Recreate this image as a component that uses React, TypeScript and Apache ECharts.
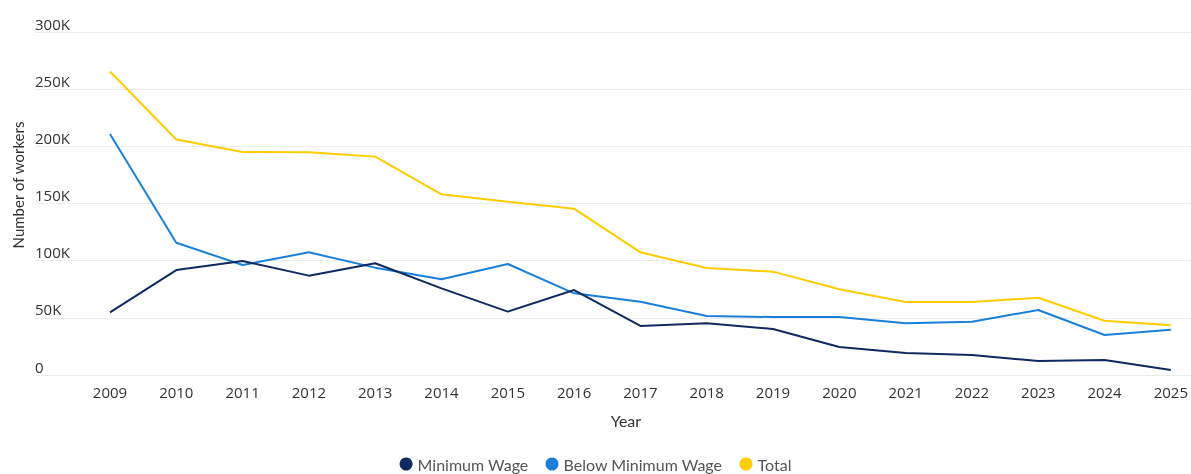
import React, { useEffect, useRef } from "react";
import * as echarts from "echarts";

const years = [2009, 2010, 2011, 2012, 2013, 2014, 2015, 2016, 2017, 2018, 2019, 2020, 2021, 2022, 2023, 2024, 2025];
const minimumWage = [54800, 91800, 99700, 86900, 97700, 75800, 55400, 74300, 42900, 45200, 40200, 24500, 19200, 17500, 12200, 13100, 4400];
const belowMinimumWage = [210800, 115700, 96200, 107300, 93900, 83700, 97100, 71400, 64100, 51600, 50700, 50700, 45200, 46600, 56900, 35000, 39600];
const total = [265500, 206000, 195000, 194800, 191000, 158000, 151600, 145500, 107300, 93600, 90400, 75000, 63900, 63900, 67600, 47500, 43500];
const seriesNames = ["Minimum Wage", "Below Minimum Wage", "Total"];
const colors = ["#10295f", "#1a7fd8", "#ffcc00"];

export default function App() {
  const ref = useRef<HTMLDivElement>(null);
  useEffect(() => {
    if (!ref.current) return;
    const chart = echarts.init(ref.current, undefined, { renderer: "svg" });
    const toPairs = (arr: number[]) => arr.map((v, i) => [years[i], v]);
    const seriesData = [minimumWage, belowMinimumWage, total];
    chart.setOption({
      animation: false,
      textStyle: { fontFamily: "Lato, 'Open Sans', sans-serif" },
      grid: { left: 35, right: 0, top: 32, bottom: 99, containLabel: false },
      xAxis: {
        type: "value",
        min: 2009 - 75 / 66.3125,
        max: 2025 + 20 / 66.3125,
        axisLine: { show: false },
        axisTick: { show: false },
        splitLine: { show: false },
        axisLabel: {
          customValues: years,
          formatter: (v: number) => String(Math.round(v)),
          color: "#333",
          fontFamily: "'Open Sans', sans-serif",
          fontSize: 15,
          margin: 9,
        },
        name: "Year",
        nameLocation: "middle",
        nameGap: 37,
        nameTextStyle: { color: "#333", fontSize: 16, fontFamily: "Lato, sans-serif", padding: [0, 0, 0, 26] },
      },
      yAxis: {
        type: "value",
        min: 0,
        max: 300000,
        interval: 50000,
        axisLine: { show: false },
        axisTick: { show: false },
        splitLine: { lineStyle: { color: "#ececec", width: 1 } },
        axisLabel: {
          formatter: (v: number) => (v === 0 ? "0" : v / 1000 + "K"),
          align: "left",
          verticalAlign: "bottom",
          margin: 0,
          lineHeight: 15,
          padding: [0, 0, 1, 0],
          color: "#333",
          fontFamily: "'Open Sans', sans-serif",
          fontSize: 15,
        },
      },
      legend: {
        data: seriesNames,
        top: 451,
        left: "center",
        icon: "circle",
        itemWidth: 13,
        itemHeight: 13,
        itemGap: 17,
        textStyle: { color: "#555", fontSize: 16, fontFamily: "Lato, sans-serif" },
      },
      graphic: [
        {
          type: "text",
          x: 18,
          y: 185,
          rotation: Math.PI / 2,
          style: {
            text: "Number of workers",
            fill: "#333",
            font: "15px Lato, sans-serif",
            align: "center",
            verticalAlign: "middle",
          },
        },
      ],
      series: seriesNames.map((name, i) => ({
        name,
        type: "line",
        data: toPairs(seriesData[i]),
        showSymbol: false,
        symbol: "circle",
        lineStyle: { width: 2, color: colors[i] },
        itemStyle: { color: colors[i] },
        z: 3 - i,
      })),
    });
    return () => chart.dispose();
  }, []);
  return <div ref={ref} style={{ position: "fixed", left: 0, top: 0, width: 1191, height: 474 }} />;
}
